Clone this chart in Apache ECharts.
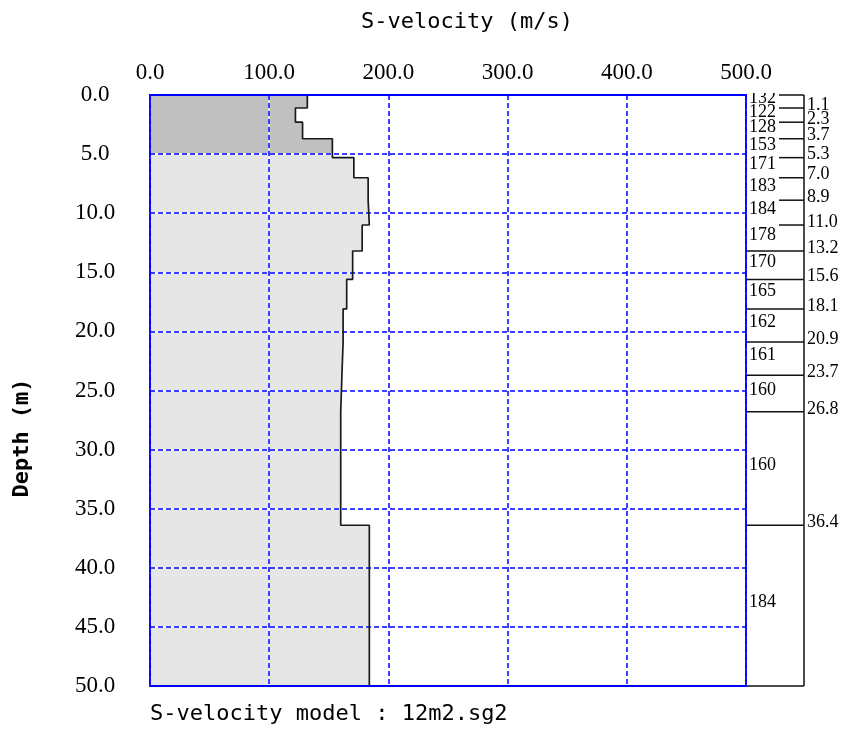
<!DOCTYPE html>
<html>
<head>
<meta charset="utf-8">
<script src="https://cdn.jsdelivr.net/npm/echarts@6/dist/echarts.min.js"></script>
<style>
  html, body { margin: 0; padding: 0; background: #fff; }
  #chart { width: 843px; height: 731px; }
</style>
</head>
<body>
<div id="chart"></div>
<script>
// Layered S-wave velocity model (depth of each layer bottom, in m)
const layerBottoms = [1.1, 2.3, 3.7, 5.3, 7.0, 8.9, 11.0, 13.2, 15.6, 18.1, 20.9, 23.7, 26.8, 36.4, 50.0];
// S-wave velocity of each layer (m/s)
const sVelocity = [132, 122, 128, 153, 171, 183, 184, 178, 170, 165, 162, 161, 160, 160, 184];
// Depth of the darker shaded near-surface zone (m)
const shallowDepth = 5.0;
// Axis ranges
const velocityTicks = [0, 100, 200, 300, 400, 500];
const depthTicks = [0, 5, 10, 15, 20, 25, 30, 35, 40, 45, 50];

const serif = '"Liberation Serif", "Times New Roman", serif';
const mono = '"DejaVu Sans Mono", monospace';

function layerTop(i) { return i === 0 ? 0 : layerBottoms[i - 1]; }

// Step-shaped profile points
const profile = [];
sVelocity.forEach((v, i) => {
  profile.push([v, layerTop(i)]);
  profile.push([v, layerBottoms[i]]);
});

// Profile clipped to the shallow zone
const shallowProfile = [];
sVelocity.forEach((v, i) => {
  const t = layerTop(i);
  if (t >= shallowDepth) return;
  shallowProfile.push([v, t]);
  shallowProfile.push([v, Math.min(layerBottoms[i], shallowDepth)]);
});

const chart = echarts.init(document.getElementById('chart'));

const gridLineWhite = { show: true, lineStyle: { color: '#ffffff', width: 1.5, type: 'solid' } };
const gridLineBlue = { show: true, lineStyle: { color: '#0000ff', width: 1.5, type: [5, 3] } };

chart.setOption({
  backgroundColor: '#ffffff',
  animation: false,
  grid: [
    { left: 150, top: 95, width: 596, height: 591, show: true, borderColor: '#0000ff', borderWidth: 1.8, backgroundColor: 'transparent', z: 6 },
    { left: 746, top: 95, width: 58, height: 591, show: false }
  ],
  xAxis: [
    {
      gridIndex: 0, type: 'value', position: 'top',
      min: velocityTicks[0], max: velocityTicks[velocityTicks.length - 1], interval: 100,
      axisLine: { show: false }, axisTick: { show: false },
      axisLabel: { formatter: v => v.toFixed(1), fontFamily: serif, fontSize: 23, color: '#000', margin: 11 },
      splitLine: gridLineWhite, z: 2
    },
    {
      gridIndex: 0, type: 'value', position: 'top',
      min: velocityTicks[0], max: velocityTicks[velocityTicks.length - 1], interval: 100,
      axisLine: { show: false }, axisTick: { show: false }, axisLabel: { show: false },
      splitLine: gridLineBlue, z: 3
    },
    { gridIndex: 1, type: 'value', min: 0, max: 1, show: false }
  ],
  yAxis: [
    {
      gridIndex: 0, type: 'value', inverse: true,
      min: depthTicks[0], max: depthTicks[depthTicks.length - 1], interval: 5,
      axisLine: { show: false }, axisTick: { show: false },
      axisLabel: { formatter: v => v.toFixed(1), fontFamily: serif, fontSize: 23, color: '#000', margin: 55, align: 'center' },
      splitLine: gridLineWhite, z: 2
    },
    {
      gridIndex: 0, type: 'value', inverse: true,
      min: depthTicks[0], max: depthTicks[depthTicks.length - 1], interval: 5,
      axisLine: { show: false }, axisTick: { show: false }, axisLabel: { show: false },
      splitLine: gridLineBlue, z: 3
    },
    { gridIndex: 1, type: 'value', inverse: true, min: 0, max: 50, show: false }
  ],
  graphic: [
    { type: 'text', x: 467, y: 22, style: { text: 'S-velocity (m/s)', font: '22px ' + mono, fill: '#000', textAlign: 'center', textVerticalAlign: 'middle' } },
    { type: 'text', x: 22, y: 438, rotation: Math.PI / 2, style: { text: 'Depth (m)', font: 'bold 22px ' + mono, fill: '#000', textAlign: 'center', textVerticalAlign: 'middle' } },
    { type: 'text', x: 150, y: 714, style: { text: 'S-velocity model : 12m2.sg2', font: '22px ' + mono, fill: '#000', textAlign: 'left', textVerticalAlign: 'middle' } }
  ],
  series: [
    {
      // shaded area under the velocity profile
      type: 'custom', xAxisIndex: 0, yAxisIndex: 0, z: 1, silent: true,
      data: [[0, 0]],
      renderItem: function (params, api) {
        const full = [api.coord([0, 0])].concat(profile.map(p => api.coord(p)), [api.coord([0, layerBottoms[layerBottoms.length - 1]])]);
        const shallow = [api.coord([0, 0])].concat(shallowProfile.map(p => api.coord(p)), [api.coord([0, shallowDepth])]);
        return {
          type: 'group',
          children: [
            { type: 'polygon', shape: { points: full }, style: { fill: '#e6e6e6' } },
            { type: 'polygon', shape: { points: shallow }, style: { fill: '#c0c0c0' } }
          ]
        };
      }
    },
    {
      type: 'line', xAxisIndex: 0, yAxisIndex: 0, z: 4,
      data: profile, symbol: 'none', silent: true,
      lineStyle: { color: '#1a1a1a', width: 1.7 }
    },
    {
      // layer table on the right: velocity per layer and boundary depths
      type: 'custom', xAxisIndex: 2, yAxisIndex: 2, z: 4, clip: false, silent: true,
      data: sVelocity.map((v, i) => [0, layerBottoms[i], i]),
      renderItem: function (params, api) {
        const i = api.value(2);
        const top = layerTop(i);
        const bot = layerBottoms[i];
        const pTop = api.coord([0, top]);
        const pBot = api.coord([1, bot]);
        const x0 = pTop[0], x1 = pBot[0];
        const yTop = pTop[1], yBot = pBot[1];
        const thin = (yBot - yTop) < 25.5;
        const last = i === sVelocity.length - 1;
        const lineStyle = { stroke: '#111', lineWidth: 1.5 };
        const label = {
          type: 'text', x: x0 + 3, y: (yTop + yBot) / 2 - 3,
          style: { text: String(sVelocity[i]), font: '18px ' + serif, fill: '#000', textAlign: 'left', textVerticalAlign: 'middle' }
        };
        const children = [
          { type: 'line', shape: { x1: x1, y1: yTop, x2: x1, y2: yBot }, style: lineStyle },
          { type: 'line', shape: { x1: (thin && !last) ? x0 + 33 : x0, y1: yBot, x2: x1, y2: yBot }, style: lineStyle }
        ];
        if (i === 0) {
          // the first label is cut by the top of the table
          children.push({
            type: 'group',
            clipPath: { type: 'rect', shape: { x: x0, y: yTop - 2, width: 40, height: 30 } },
            children: [label]
          });
          children.push({ type: 'line', shape: { x1: x0 + 33, y1: yTop, x2: x1, y2: yTop }, style: lineStyle });
        } else {
          children.push(label);
        }
        if (!last) {
          children.push({ type: 'text', x: x1 + 3, y: yBot - 3, style: { text: bot.toFixed(1), font: '18px ' + serif, fill: '#000', textAlign: 'left', textVerticalAlign: 'middle' } });
        }
        return { type: 'group', children: children };
      }
    }
  ]
});
</script>
</body>
</html>
